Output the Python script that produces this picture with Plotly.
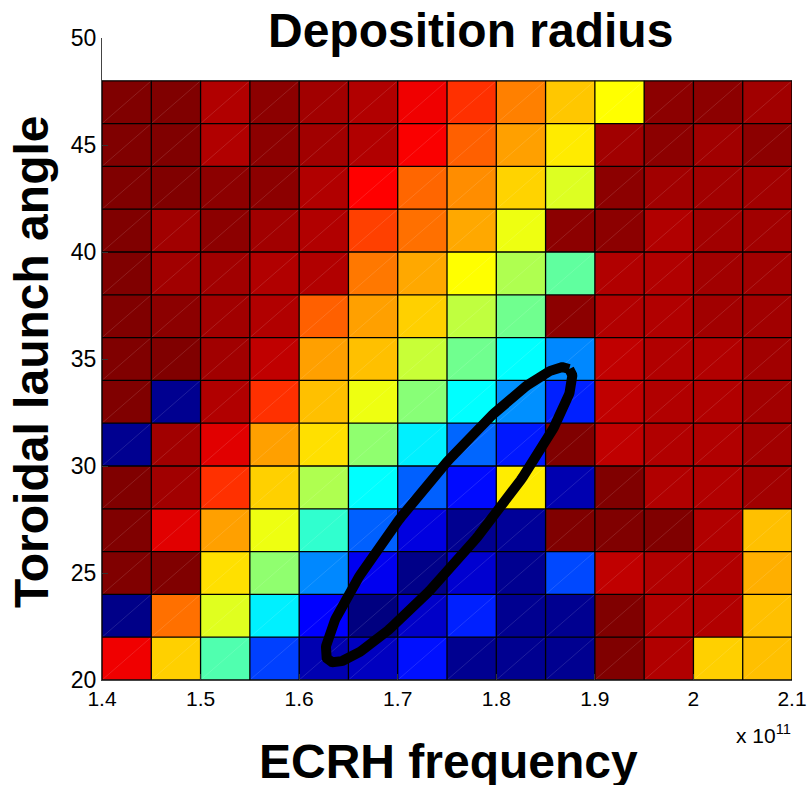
import numpy as np
import plotly.graph_objects as go

# ECRH frequency cell edges (units of 10^11 Hz)
freq_edges = [1.40, 1.45, 1.50, 1.55, 1.60, 1.65, 1.70, 1.75, 1.80, 1.85, 1.90, 1.95, 2.00, 2.05, 2.10]
# Toroidal launch angle cell edges (deg)
angle_edges = [20, 22, 24, 26, 28, 30, 32, 34, 36, 38, 40, 42, 44, 46, 48]

# Deposition radius (normalised, jet scale 0..1), rows from bottom (20-22) to top (46-48)
row_20 = [0.890, 0.671, 0.453, 0.188, 0.047, 0.063, 0.141, 0.016, 0.016, 0.016, 1.000, 0.952, 0.671, 0.687]
row_22 = [0.008, 0.765, 0.595, 0.360, 0.125, 0.000, 0.071, 0.156, 0.016, 0.016, 1.000, 0.952, 0.952, 0.687]
row_24 = [1.000, 1.000, 0.655, 0.516, 0.258, 0.110, 0.008, 0.079, 0.016, 0.196, 0.937, 0.952, 0.952, 0.703]
row_26 = [1.000, 0.905, 0.718, 0.608, 0.422, 0.219, 0.094, 0.016, 0.024, 1.000, 1.000, 1.000, 0.952, 0.687]
row_28 = [1.000, 0.968, 0.828, 0.671, 0.547, 0.375, 0.219, 0.135, 0.643, 0.047, 1.000, 0.952, 0.952, 0.968]
row_30 = [0.016, 0.968, 0.905, 0.718, 0.655, 0.516, 0.360, 0.225, 0.149, 1.000, 0.937, 0.952, 0.952, 0.968]
row_32 = [1.000, 0.016, 0.952, 0.828, 0.687, 0.608, 0.508, 0.375, 0.266, 0.156, 0.937, 0.952, 0.952, 0.968]
row_34 = [1.000, 1.000, 0.968, 0.937, 0.718, 0.687, 0.571, 0.485, 0.375, 0.258, 0.937, 0.952, 0.952, 0.968]
row_36 = [1.000, 0.988, 0.968, 0.952, 0.781, 0.718, 0.671, 0.563, 0.485, 0.988, 0.952, 0.952, 0.968, 0.968]
row_38 = [1.000, 0.968, 0.968, 0.952, 0.952, 0.757, 0.710, 0.625, 0.547, 0.469, 0.952, 0.952, 0.968, 0.968]
row_40 = [1.000, 0.968, 0.988, 0.968, 0.952, 0.8125, 0.765, 0.710, 0.608, 0.988, 0.988, 0.952, 0.968, 0.968]
row_42 = [1.000, 1.000, 0.988, 0.988, 0.952, 0.875, 0.775, 0.737, 0.668, 0.592, 0.988, 0.968, 0.968, 0.968]
row_44 = [1.000, 1.000, 0.952, 0.988, 0.968, 0.952, 0.880, 0.781, 0.718, 0.645, 0.968, 0.988, 0.968, 0.988]
row_46 = [1.000, 1.000, 0.952, 0.988, 0.968, 0.952, 0.890, 0.828, 0.750, 0.680, 0.625, 0.988, 0.988, 0.968]
radius = [row_20, row_22, row_24, row_26, row_28, row_30, row_32,
          row_34, row_36, row_38, row_40, row_42, row_44, row_46]

x_ticks = [1.4, 1.5, 1.6, 1.7, 1.8, 1.9, 2.0, 2.1]
x_tick_labels = ["1.4", "1.5", "1.6", "1.7", "1.8", "1.9", "2", "2.1"]
y_ticks = [20, 25, 30, 35, 40, 45, 50]

# highlighted region (ellipse): centre in data units, semi-axes in screen px, tilt in degrees
ell_center = (1.7520, 27.72)
ell_axes_px = (189, 36)
ell_tilt_deg = 50.5

matlab_jet = [[0.0, "#000080"], [0.125, "#0000FF"], [0.375, "#00FFFF"],
              [0.625, "#FFFF00"], [0.875, "#FF0000"], [1.0, "#800000"]]

W, H = 807, 785
ml, mr, mt, mb = 102, 15, 38, 105
pw, ph = W - ml - mr, H - mt - mb
x_range = [1.4, 2.1]
y_range = [20, 50]
sx = pw / (x_range[1] - x_range[0])
sy = ph / (y_range[1] - y_range[0])

fig = go.Figure()
fig.add_trace(go.Heatmap(
    x=freq_edges, y=angle_edges, z=radius,
    colorscale=matlab_jet, zmin=0, zmax=1, showscale=False,
    hoverinfo="skip"))

# faint diagonal rendering lines in each cell
dx, dy = [], []
for i in range(len(freq_edges) - 1):
    for j in range(len(angle_edges) - 1):
        dx += [freq_edges[i], freq_edges[i + 1], None]
        dy += [angle_edges[j], angle_edges[j + 1], None]
fig.add_trace(go.Scatter(x=dx, y=dy, mode="lines",
                         line=dict(color="rgba(255,255,255,0.12)", width=1),
                         hoverinfo="skip", showlegend=False))

# cell borders
gx, gy = [], []
for xe in freq_edges:
    gx += [xe, xe, None]
    gy += [angle_edges[0], angle_edges[-1], None]
for ye in angle_edges:
    gx += [freq_edges[0], freq_edges[-1], None]
    gy += [ye, ye, None]
fig.add_trace(go.Scatter(x=gx, y=gy, mode="lines",
                         line=dict(color="black", width=1.3),
                         hoverinfo="skip", showlegend=False))

# ellipse
t = np.linspace(0, 2 * np.pi, 300)
th = np.deg2rad(ell_tilt_deg)
a, b = ell_axes_px
ex = ell_center[0] + (a * np.cos(t) * np.cos(th) - b * np.sin(t) * np.sin(th)) / sx
ey = ell_center[1] + (a * np.cos(t) * np.sin(th) + b * np.sin(t) * np.cos(th)) / sy
fig.add_trace(go.Scatter(x=ex, y=ey, mode="lines",
                         line=dict(color="black", width=10),
                         hoverinfo="skip", showlegend=False))

font_family = "Liberation Sans, Arial, sans-serif"
fig.update_layout(
    width=W, height=H,
    margin=dict(l=ml, r=mr, t=mt, b=mb, autoexpand=False),
    paper_bgcolor="white", plot_bgcolor="white",
    showlegend=False,
    font=dict(family=font_family, size=23, color="black"),
    xaxis=dict(range=x_range, tickvals=x_ticks, ticktext=x_tick_labels,
               ticks="inside", ticklen=6, tickcolor="#333", showgrid=False,
               zeroline=False, showline=True, linecolor="#444", linewidth=1,
               tickfont=dict(size=21), mirror=False, ticklabeloverflow="allow",
               automargin=False),
    yaxis=dict(range=y_range, tickvals=y_ticks,
               ticks="inside", ticklen=6, tickcolor="#333", showgrid=False,
               zeroline=False, showline=True, linecolor="#444", linewidth=1,
               tickfont=dict(size=23), mirror=False, ticklabeloverflow="allow",
               automargin=False),
    annotations=[
        dict(text="<b>Deposition radius</b>", xref="paper", yref="paper",
             x=(470 - 102) / pw, y=1 + (38 - 31) / ph, xanchor="center", yanchor="middle",
             showarrow=False, font=dict(size=48, family=font_family)),
        dict(text="<b>Toroidal launch angle</b>", xref="paper", yref="paper",
             x=(31 - 102) / pw, y=(680 - 362) / ph, xanchor="center", yanchor="middle",
             textangle=-90,
             showarrow=False, font=dict(size=48, family=font_family)),
        dict(text="<b>ECRH frequency</b>", xref="paper", yref="paper",
             x=(449 - 102) / pw, y=(680 - 762) / ph, xanchor="center", yanchor="middle",
             showarrow=False, font=dict(size=48, family=font_family)),
        dict(text="x 10<sup>11</sup>", xref="paper", yref="paper",
             x=(793 - 102) / pw, y=(680 - 734) / ph, xanchor="right", yanchor="middle",
             showarrow=False, font=dict(size=21, family=font_family)),
    ],
)

fig.write_html("out.html", config={"displayModeBar": False},
               post_script="document.body.style.margin='0';document.body.style.overflow='hidden';")
